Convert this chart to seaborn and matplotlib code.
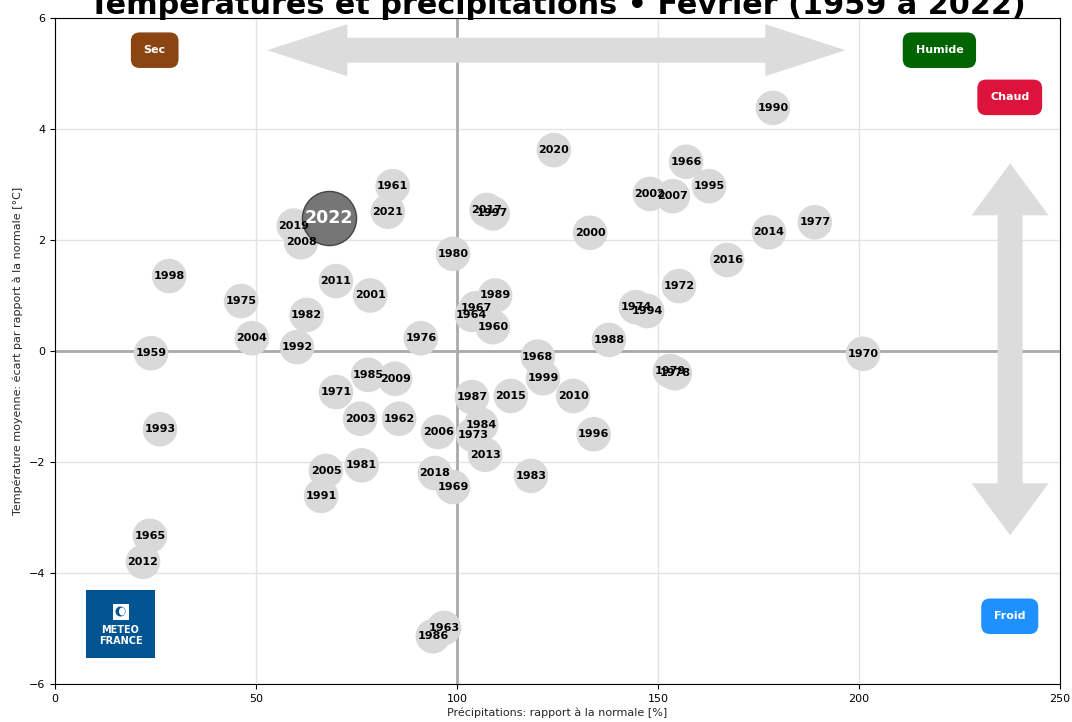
import matplotlib
matplotlib.use("Agg")
import matplotlib.pyplot as plt
import matplotlib.patches as mpatches
import seaborn as sns
import pandas as pd
import numpy as np

# ---------------- data ----------------
years = [1959, 1960, 1961, 1962, 1963, 1964, 1965, 1966, 1967, 1968,
         1969, 1970, 1971, 1972, 1973, 1974, 1975, 1976, 1977, 1978,
         1979, 1980, 1981, 1982, 1983, 1984, 1985, 1986, 1987, 1988,
         1989, 1990, 1991, 1992, 1993, 1994, 1995, 1996, 1997, 1998,
         1999, 2000, 2001, 2002, 2003, 2004, 2005, 2006, 2007, 2008,
         2009, 2010, 2011, 2012, 2013, 2014, 2015, 2016, 2017, 2018,
         2019, 2020, 2021, 2022]
precip = [23.9, 108.9, 84.0, 85.6, 96.8, 103.7, 23.6, 157.0, 104.7, 120.1,
          99.0, 201.0, 69.9, 155.2, 104.0, 144.5, 46.3, 91.0, 189.0, 154.2,
          153.0, 99.0, 76.3, 62.6, 118.4, 106.0, 77.9, 94.0, 103.7, 137.8,
          109.5, 178.6, 66.2, 60.2, 26.1, 147.3, 162.7, 134.0, 108.9, 28.4,
          121.4, 133.1, 78.4, 148.0, 75.9, 49.0, 67.4, 95.3, 153.7, 61.2,
          84.6, 128.9, 69.9, 21.9, 107.0, 177.6, 113.4, 167.2, 107.4, 94.5,
          59.4, 124.1, 82.8, 68.2]
temp = [-0.04, 0.43, 2.97, -1.22, -4.99, 0.65, -3.33, 3.41, 0.77, -0.10,
        -2.45, -0.05, -0.74, 1.17, -1.51, 0.79, 0.90, 0.23, 2.32, -0.40,
        -0.36, 1.75, -2.06, 0.65, -2.25, -1.33, -0.43, -5.14, -0.83, 0.20,
        1.00, 4.38, -2.61, 0.07, -1.41, 0.72, 2.97, -1.50, 2.48, 1.35,
        -0.49, 2.13, 1.00, 2.83, -1.22, 0.23, -2.16, -1.46, 2.79, 1.96,
        -0.50, -0.81, 1.26, -3.80, -1.87, 2.14, -0.81, 1.64, 2.54, -2.20,
        2.26, 3.62, 2.51, 2.40]
highlight_year = 2022

xticks = [0, 50, 100, 150, 200, 250]
yticks = [-6, -4, -2, 0, 2, 4, 6]

title = "Températures et précipitations • Février (1959 à 2022)"
xlabel = "Précipitations: rapport à la normale [%]"
ylabel = "Température moyenne: écart par rapport à la normale [°C]"

df = pd.DataFrame({"year": years, "precip": precip, "temp": temp})

# ---------------- figure ----------------
sns.set_style("white")
plt.rcParams["font.family"] = ["DejaVu Sans"]

W, H, DPI = 1072, 722, 100
fig = plt.figure(figsize=(W / DPI, H / DPI), dpi=DPI)
axl, axr, axt, axb = 55, 1060, 18, 684
ax = fig.add_axes([axl / W, (H - axb) / H, (axr - axl) / W, (axb - axt) / H])

xmin, xmax, ymin, ymax = 0, 250, -6, 6
ax.set_xlim(xmin, xmax)
ax.set_ylim(ymin, ymax)
sx = (xmax - xmin) / (axr - axl)   # data units per pixel
sy = (ymax - ymin) / (axb - axt)

ax.set_xticks(xticks)
ax.set_yticks(yticks)
ax.grid(True, color="#e3e3e3", linewidth=1.0, zorder=0)
ax.set_axisbelow(True)
ax.axhline(0, color="#aaaaaa", linewidth=2.0, zorder=1)
ax.axvline(100, color="#aaaaaa", linewidth=2.0, zorder=1)
for sp in ax.spines.values():
    sp.set_color("black")
    sp.set_linewidth(0.8)
ax.tick_params(axis="both", direction="out", length=3.5, width=0.8,
               labelsize=8, colors="black", bottom=True, left=True)

# ---------------- decorative arrows ----------------
arrow_col = "#dcdcdc"

def double_arrow(cx, cy, length_px, shaft_px, headw_px, headl_px, vertical):
    L, s, hw, hl = length_px / 2, shaft_px / 2, headw_px / 2, headl_px
    pts = [(-L, 0), (-L + hl, hw), (-L + hl, s), (L - hl, s), (L - hl, hw),
           (L, 0), (L - hl, -hw), (L - hl, -s), (-L + hl, -s), (-L + hl, -hw)]
    if vertical:
        pts = [(b, a) for a, b in pts]
    poly = [(cx + px * sx, cy + py * sy) for px, py in pts]
    ax.add_patch(mpatches.Polygon(poly, closed=True, facecolor=arrow_col,
                                  edgecolor="none", zorder=1.5))

double_arrow(124.7, 5.42, 578, 25, 52, 80, vertical=False)
double_arrow(237.6, 0.03, 372, 25, 77, 52, vertical=True)

# ---------------- circles ----------------
others = df[df["year"] != highlight_year]
hl = df[df["year"] == highlight_year]
sns.scatterplot(data=others, x="precip", y="temp", s=620, color="#d9d9d9",
                edgecolor="none", linewidth=0, ax=ax, zorder=3, legend=False)
sns.scatterplot(data=hl, x="precip", y="temp", s=1520, color="#6a6a6a",
                edgecolor="#3c3c3c", linewidth=1.0, alpha=0.92, ax=ax,
                zorder=4, legend=False)
ax.set_xlabel(xlabel, fontsize=8, labelpad=3)
ax.set_ylabel(ylabel, fontsize=8, labelpad=4)

for _, r in others.iterrows():
    ax.text(r["precip"], r["temp"], str(int(r["year"])), ha="center",
            va="center", fontsize=8, fontweight="bold", color="black",
            zorder=5)
for _, r in hl.iterrows():
    ax.text(r["precip"], r["temp"], str(int(r["year"])), ha="center",
            va="center", fontsize=12.5, fontweight="bold", color="white",
            zorder=6)

# ---------------- category boxes ----------------
def tag(x, y, txt, col):
    ax.text(x, y, txt, ha="center", va="center", fontsize=8,
            fontweight="bold", color="white", zorder=6,
            bbox=dict(boxstyle="round,pad=1.15,rounding_size=0.8",
                      facecolor=col, edgecolor="none"))

tag(24.8, 5.42, "Sec", "#8b4513")
tag(220.0, 5.42, "Humide", "#006400")
tag(237.5, 4.57, "Chaud", "#dc143c")
tag(237.5, -4.78, "Froid", "#1e90ff")

# ---------------- logo ----------------
logo_col = "#005492"
lx0, lx1, ly0, ly1 = 86, 155, 590, 658
def px2d(px, py):
    return xmin + (px - axl) * sx, ymax - (py - axt) * sy

ax.add_patch(mpatches.Rectangle(px2d(lx0, ly1), (lx1 - lx0) * sx, (ly1 - ly0) * sy,
                                facecolor=logo_col, edgecolor="none", zorder=6))
icx, icy = 120.5, 611.5
ax.add_patch(mpatches.Rectangle(px2d(icx - 8, icy + 8), 16 * sx, 16 * sy,
                                facecolor="white", edgecolor="none", zorder=7))
ax.add_patch(mpatches.Ellipse(px2d(icx, icy), 10 * sx, 10 * sy, facecolor=logo_col,
                              edgecolor="none", zorder=8))
ax.add_patch(mpatches.Ellipse(px2d(icx + 1.5, icy), 6 * sx, 8 * sy, facecolor="white",
                              edgecolor="none", zorder=9))
ax.text(*px2d(icx, 630), "METEO", ha="center", va="center", fontsize=7,
        fontweight="bold", color="white", zorder=8)
ax.text(*px2d(icx, 641), "FRANCE", ha="center", va="center", fontsize=7,
        fontweight="bold", color="white", zorder=8)

# ---------------- title ----------------
fig.text((axl + axr) / 2 / W, (H - 14) / H, title, ha="center", va="baseline",
         fontsize=21.8, fontweight="bold", color="black")

fig.savefig("out.png", dpi=DPI)
